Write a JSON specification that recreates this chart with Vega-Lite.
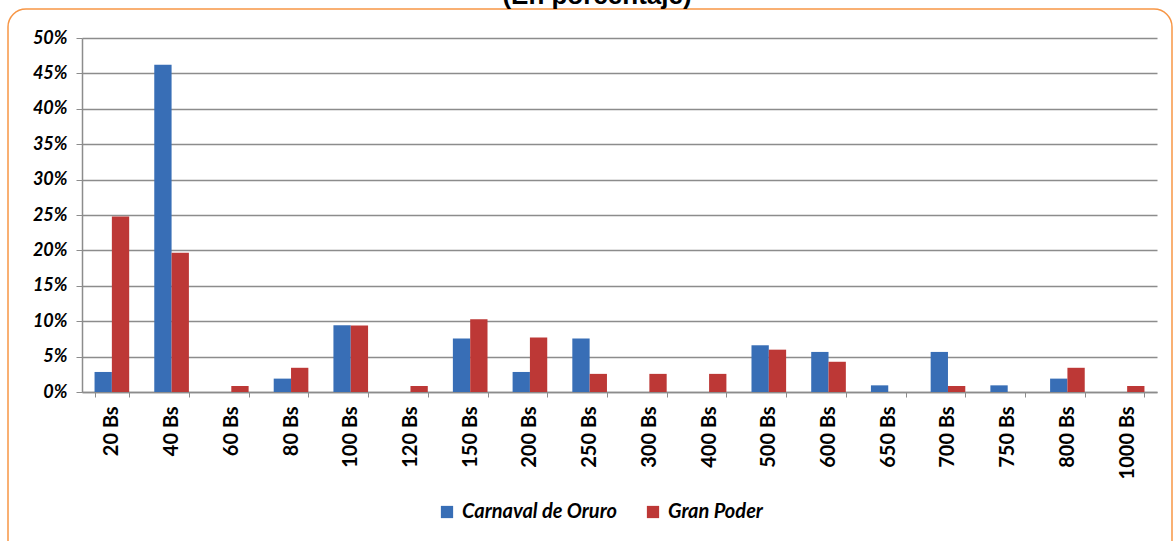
{
  "$schema": "https://vega.github.io/schema/vega-lite/v6.json",
  "autosize": "none",
  "padding": {"left": 8, "top": 9, "right": 2, "bottom": 0},
  "width": 1164,
  "height": 560,
  "background": "white",
  "title": {
    "text": "(En porcentaje)",
    "font": "Liberation Sans",
    "fontSize": 26,
    "fontWeight": "bold",
    "color": "#000000",
    "anchor": "middle",
    "frame": "group",
    "dx": 7,
    "offset": 0
  },
  "config": {
    "view": {"stroke": "#F79646", "strokeWidth": 1.5, "cornerRadius": 18, "fill": "white"}
  },
  "data": {
    "values": [
      {"precio": "20 Bs", "serie": "Carnaval de Oruro", "pct": 2.83},
      {"precio": "40 Bs", "serie": "Carnaval de Oruro", "pct": 46.23},
      {"precio": "60 Bs", "serie": "Carnaval de Oruro", "pct": 0},
      {"precio": "80 Bs", "serie": "Carnaval de Oruro", "pct": 1.89},
      {"precio": "100 Bs", "serie": "Carnaval de Oruro", "pct": 9.43},
      {"precio": "120 Bs", "serie": "Carnaval de Oruro", "pct": 0},
      {"precio": "150 Bs", "serie": "Carnaval de Oruro", "pct": 7.55},
      {"precio": "200 Bs", "serie": "Carnaval de Oruro", "pct": 2.83},
      {"precio": "250 Bs", "serie": "Carnaval de Oruro", "pct": 7.55},
      {"precio": "300 Bs", "serie": "Carnaval de Oruro", "pct": 0},
      {"precio": "400 Bs", "serie": "Carnaval de Oruro", "pct": 0},
      {"precio": "500 Bs", "serie": "Carnaval de Oruro", "pct": 6.6},
      {"precio": "600 Bs", "serie": "Carnaval de Oruro", "pct": 5.66},
      {"precio": "650 Bs", "serie": "Carnaval de Oruro", "pct": 0.94},
      {"precio": "700 Bs", "serie": "Carnaval de Oruro", "pct": 5.66},
      {"precio": "750 Bs", "serie": "Carnaval de Oruro", "pct": 0.94},
      {"precio": "800 Bs", "serie": "Carnaval de Oruro", "pct": 1.89},
      {"precio": "1000 Bs", "serie": "Carnaval de Oruro", "pct": 0},
      {"precio": "20 Bs", "serie": "Gran Poder", "pct": 24.79},
      {"precio": "40 Bs", "serie": "Gran Poder", "pct": 19.66},
      {"precio": "60 Bs", "serie": "Gran Poder", "pct": 0.85},
      {"precio": "80 Bs", "serie": "Gran Poder", "pct": 3.42},
      {"precio": "100 Bs", "serie": "Gran Poder", "pct": 9.4},
      {"precio": "120 Bs", "serie": "Gran Poder", "pct": 0.85},
      {"precio": "150 Bs", "serie": "Gran Poder", "pct": 10.26},
      {"precio": "200 Bs", "serie": "Gran Poder", "pct": 7.69},
      {"precio": "250 Bs", "serie": "Gran Poder", "pct": 2.56},
      {"precio": "300 Bs", "serie": "Gran Poder", "pct": 2.56},
      {"precio": "400 Bs", "serie": "Gran Poder", "pct": 2.56},
      {"precio": "500 Bs", "serie": "Gran Poder", "pct": 5.98},
      {"precio": "600 Bs", "serie": "Gran Poder", "pct": 4.27},
      {"precio": "650 Bs", "serie": "Gran Poder", "pct": 0},
      {"precio": "700 Bs", "serie": "Gran Poder", "pct": 0.85},
      {"precio": "750 Bs", "serie": "Gran Poder", "pct": 0},
      {"precio": "800 Bs", "serie": "Gran Poder", "pct": 3.42},
      {"precio": "1000 Bs", "serie": "Gran Poder", "pct": 0.85}
    ]
  },
  "mark": {"type": "bar"},
  "encoding": {
    "x": {
      "field": "precio",
      "type": "nominal",
      "sort": null,
      "scale": {"range": [74, 1149], "paddingInner": 0.42, "paddingOuter": 0.21},
      "axis": {
        "title": null,
        "orient": "bottom",
        "offset": -177,
        "tickBand": "extent",
        "tickSize": 5,
        "tickColor": "#8c8c8c",
        "domainColor": "#8c8c8c",
        "domainWidth": 1.5,
        "labelAngle": -90,
        "labelPadding": 9,
        "labelFont": "Lato",
        "labelFontSize": 20,
        "labelFontWeight": "bold",
        "labelColor": "#000000",
        "grid": false
      }
    },
    "xOffset": {"field": "serie", "type": "nominal", "scale": {"paddingInner": 0, "paddingOuter": 0}},
    "y": {
      "field": "pct",
      "type": "quantitative",
      "scale": {"domain": [0, 50], "range": [383, 29], "nice": false, "zero": true},
      "axis": {
        "title": null,
        "orient": "left",
        "offset": -74,
        "values": [0, 5, 10, 15, 20, 25, 30, 35, 40, 45, 50],
        "labelExpr": "datum.value + '%'",
        "tickSize": 6,
        "tickColor": "#8c8c8c",
        "domainColor": "#8c8c8c",
        "domainWidth": 1.5,
        "grid": true,
        "gridColor": "#8c8c8c",
        "gridWidth": 1.5,
        "labelPadding": 9,
        "labelFont": "Lato",
        "labelFontSize": 18,
        "labelFontWeight": "bold",
        "labelFontStyle": "italic",
        "labelColor": "#000000"
      }
    },
    "color": {
      "field": "serie",
      "type": "nominal",
      "scale": {
        "domain": ["Carnaval de Oruro", "Gran Poder"],
        "range": ["#386EB6", "#BD3836"]
      },
      "legend": {
        "title": null,
        "orient": "none",
        "legendX": 429,
        "legendY": 493,
        "direction": "horizontal",
        "symbolType": "square",
        "symbolSize": 150,
        "symbolStrokeWidth": 0,
        "labelFont": "Lato",
        "labelFontSize": 20,
        "labelFontWeight": "bold",
        "labelFontStyle": "italic",
        "labelColor": "#000000",
        "labelOffset": 5,
        "columnPadding": 26
      }
    }
  }
}
